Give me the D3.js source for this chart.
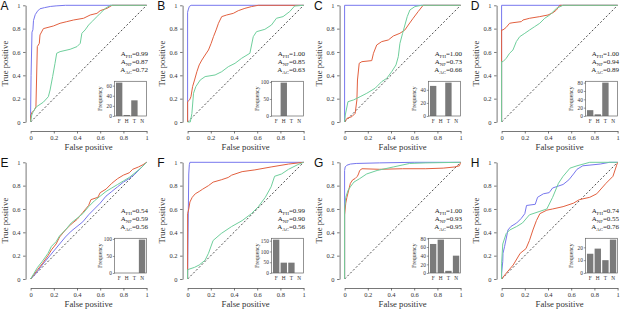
<!DOCTYPE html>
<html><head><meta charset="utf-8">
<script src="https://cdn.jsdelivr.net/npm/d3@7"></script>
<style>body{margin:0;background:#fff} svg{display:block}</style>
</head><body><svg id="c" width="623" height="310"></svg>
<script>
// ---------- data ----------
const panelLabels = ["A","B","C","D","E","F","G","H"];
const rocTicks = [0, 0.2, 0.4, 0.6, 0.8, 1];
const methodNames = ["FH","NF","AC"];
const aucFH = [0.99, 1.00, 1.00, 1.00, 0.54, 0.99, 1.00, 0.74];
const aucNF = [0.87, 0.85, 0.73, 0.94, 0.59, 0.90, 0.93, 0.55];
const aucAC = [0.72, 0.63, 0.66, 0.89, 0.56, 0.56, 0.95, 0.76];
const freqCats = ["F","H","T","N"];
const freqA = [66, 2, 31, 0];
const freqB = [0, 98, 0, 0];
const freqC = [46, 0, 51, 0];
const freqD = [14, 4, 80, 0];
const freqE = [0, 0, 0, 98];
const freqF = [155, 48, 48, 0];
const freqG = [67, 77, 5, 40];
const freqH = [15, 19, 10, 26];
const freqTicksA = [0, 20, 40, 60];
const freqTicksB = [0, 50, 100];
const freqTicksC = [0, 20, 40];
const freqTicksD = [0, 20, 40, 60, 80];
const freqTicksE = [0, 50, 100];
const freqTicksF = [0, 50, 100, 150];
const freqTicksG = [0, 20, 40, 60, 80];
const freqTicksH = [0, 10, 20];

// ROC curves: [false positive, true positive]
const rocA_FH = [[0,0],[0,0.07],[0.004,0.4],[0.012,0.77],[0.02,0.79],[0.025,0.87],[0.04,0.92],[0.06,0.95],[0.08,0.97],[0.12,0.98],[0.17,0.99],[0.22,0.995],[0.3,1],[1,1]];
const rocA_NF = [[0,0],[0,0.05],[0.01,0.08],[0.03,0.1],[0.046,0.13],[0.058,0.646],[0.075,0.674],[0.081,0.746],[0.11,0.8],[0.197,0.823],[0.254,0.846],[0.312,0.86],[0.37,0.874],[0.457,0.889],[0.514,0.917],[0.572,0.931],[0.6,0.954],[0.659,0.974],[0.702,1],[1,1]];
const rocA_AC = [[0,0],[0.01,0.06],[0.023,0.09],[0.05,0.13],[0.11,0.17],[0.153,0.217],[0.168,0.274],[0.19,0.389],[0.21,0.5],[0.225,0.589],[0.254,0.603],[0.341,0.623],[0.4,0.646],[0.428,0.674],[0.442,0.76],[0.47,0.789],[0.5,0.831],[0.529,0.86],[0.572,0.903],[0.6,0.931],[0.645,0.974],[0.688,1],[1,1]];

const rocB_FH = [[0,0],[0,0.94],[0.005,0.96],[0.015,0.99],[0.03,1],[1,1]];
const rocB_NF = [[0,0],[0,0.174],[0.017,0.189],[0.029,0.217],[0.043,0.303],[0.06,0.36],[0.08,0.431],[0.1,0.489],[0.123,0.531],[0.151,0.574],[0.18,0.617],[0.203,0.674],[0.223,0.731],[0.246,0.789],[0.266,0.846],[0.294,0.903],[0.337,0.917],[0.394,0.931],[0.437,0.954],[0.494,0.974],[0.551,0.989],[0.609,1],[1,1]];
const rocB_AC = [[0,0],[0.023,0],[0.037,0.074],[0.051,0.246],[0.071,0.303],[0.109,0.36],[0.151,0.389],[0.237,0.403],[0.294,0.431],[0.351,0.474],[0.409,0.503],[0.466,0.546],[0.537,0.589],[0.566,0.731],[0.594,0.774],[0.666,0.794],[0.723,0.831],[0.766,0.889],[0.823,0.903],[0.88,0.946],[0.923,0.994],[1,1]];

const rocC_FH = [[0,0],[0,1],[1,1]];
const rocC_NF = [[0,0],[0.02,0.031],[0.063,0.046],[0.091,0.074],[0.106,0.189],[0.111,0.36],[0.126,0.503],[0.149,0.517],[0.234,0.526],[0.249,0.589],[0.277,0.66],[0.32,0.689],[0.377,0.703],[0.42,0.737],[0.477,0.76],[0.52,0.789],[0.549,0.831],[0.591,0.889],[0.634,0.946],[0.677,1],[1,1]];
const rocC_AC = [[0,0],[0.006,0.06],[0.029,0.174],[0.077,0.189],[0.134,0.217],[0.191,0.246],[0.263,0.289],[0.32,0.346],[0.363,0.374],[0.406,0.431],[0.443,0.489],[0.463,0.56],[0.477,0.674],[0.5,0.76],[0.52,0.831],[0.54,0.903],[0.563,0.96],[0.606,0.989],[0.663,1],[1,1]];

const rocD_FH = [[0,0],[0,1],[1,1]];
const rocD_NF = [[0,0],[0,0.789],[0.012,0.789],[0.04,0.811],[0.069,0.846],[0.098,0.851],[0.17,0.86],[0.184,0.874],[0.242,0.889],[0.329,0.903],[0.4,0.917],[0.444,0.937],[0.473,0.96],[0.501,1],[1,1]];
const rocD_AC = [[0,0],[0,0.517],[0.012,0.517],[0.04,0.546],[0.069,0.589],[0.098,0.617],[0.127,0.689],[0.156,0.731],[0.2,0.76],[0.242,0.789],[0.285,0.817],[0.329,0.846],[0.372,0.889],[0.415,0.917],[0.473,0.974],[0.53,1],[1,1]];

const rocE_FH = [[0,0],[0.03,0.03],[0.07,0.08],[0.1,0.12],[0.15,0.18],[0.2,0.24],[0.25,0.3],[0.3,0.36],[0.35,0.41],[0.4,0.45],[0.45,0.49],[0.5,0.55],[0.55,0.6],[0.6,0.65],[0.65,0.71],[0.7,0.75],[0.75,0.79],[0.8,0.83],[0.85,0.86],[0.9,0.9],[0.95,0.95],[1,1]];
const rocE_NF = [[0,0],[0.03,0.04],[0.06,0.08],[0.1,0.13],[0.15,0.2],[0.18,0.25],[0.22,0.3],[0.25,0.36],[0.3,0.42],[0.35,0.47],[0.4,0.51],[0.45,0.57],[0.5,0.63],[0.52,0.68],[0.58,0.7],[0.6,0.74],[0.65,0.77],[0.7,0.82],[0.75,0.86],[0.8,0.89],[0.85,0.91],[0.88,0.94],[0.93,0.96],[0.97,0.98],[1,1]];
const rocE_AC = [[0,0],[0.03,0.05],[0.06,0.1],[0.1,0.15],[0.15,0.22],[0.18,0.28],[0.22,0.32],[0.25,0.37],[0.3,0.42],[0.35,0.48],[0.4,0.52],[0.45,0.56],[0.5,0.62],[0.55,0.67],[0.6,0.71],[0.65,0.75],[0.7,0.78],[0.75,0.81],[0.8,0.84],[0.85,0.87],[0.9,0.91],[0.95,0.95],[1,1]];

const rocF_FH = [[0,0],[0.003,0.3],[0.01,0.9],[0.015,0.98],[0.02,1],[1,1]];
const rocF_NF = [[0,0],[0,0.56],[0.01,0.6],[0.02,0.66],[0.04,0.7],[0.066,0.73],[0.1,0.75],[0.13,0.77],[0.18,0.8],[0.22,0.83],[0.29,0.85],[0.35,0.87],[0.38,0.89],[0.47,0.92],[0.58,0.935],[0.72,0.96],[0.87,0.985],[1,1]];
const rocF_AC = [[0,0],[0,0.08],[0.06,0.1],[0.1,0.12],[0.15,0.16],[0.18,0.22],[0.22,0.33],[0.29,0.39],[0.38,0.45],[0.47,0.5],[0.55,0.56],[0.61,0.62],[0.67,0.7],[0.72,0.79],[0.75,0.88],[0.81,0.9],[0.87,0.94],[0.95,0.98],[1,1]];

const rocG_FH = [[0,0],[0,0.93],[0.005,0.96],[0.02,0.975],[0.05,0.985],[0.1,0.99],[0.3,0.995],[0.6,1],[1,1]];
const rocG_NF = [[0,0],[0,0.55],[0.01,0.65],[0.02,0.7],[0.04,0.78],[0.05,0.82],[0.07,0.85],[0.09,0.86],[0.11,0.88],[0.12,0.9],[0.13,0.93],[0.15,0.945],[0.3,0.94],[0.5,0.945],[0.7,0.945],[0.85,0.95],[0.95,0.96],[0.99,0.97],[1,1]];
const rocG_AC = [[0,0],[0,0.6],[0.01,0.7],[0.03,0.76],[0.05,0.79],[0.08,0.83],[0.13,0.86],[0.19,0.9],[0.28,0.93],[0.42,0.96],[0.56,0.99],[0.7,0.995],[1,1]];

const rocH_FH = [[0,0],[0,0.05],[0.01,0.15],[0.012,0.22],[0.026,0.28],[0.03,0.3],[0.055,0.42],[0.08,0.45],[0.13,0.48],[0.17,0.52],[0.2,0.56],[0.215,0.63],[0.29,0.64],[0.31,0.7],[0.36,0.73],[0.41,0.74],[0.44,0.78],[0.53,0.81],[0.58,0.85],[0.62,0.9],[0.65,0.94],[0.7,0.97],[0.85,0.985],[0.93,1],[1,1]];
const rocH_NF = [[0,0],[0.04,0.05],[0.1,0.12],[0.16,0.22],[0.21,0.26],[0.24,0.33],[0.27,0.42],[0.3,0.5],[0.33,0.56],[0.39,0.59],[0.44,0.6],[0.53,0.62],[0.62,0.65],[0.67,0.68],[0.76,0.7],[0.82,0.73],[0.9,0.82],[0.96,0.88],[0.99,0.97],[1,1]];
const rocH_AC = [[0,0],[0,0.13],[0.01,0.3],[0.04,0.39],[0.07,0.42],[0.13,0.45],[0.18,0.48],[0.24,0.55],[0.33,0.58],[0.39,0.6],[0.44,0.7],[0.49,0.82],[0.53,0.88],[0.59,0.95],[0.65,0.97],[0.76,1],[1,1]];

// ---------- assemble ----------
const rocSets = [
  [rocA_FH, rocA_NF, rocA_AC], [rocB_FH, rocB_NF, rocB_AC],
  [rocC_FH, rocC_NF, rocC_AC], [rocD_FH, rocD_NF, rocD_AC],
  [rocE_FH, rocE_NF, rocE_AC], [rocF_FH, rocF_NF, rocF_AC],
  [rocG_FH, rocG_NF, rocG_AC], [rocH_FH, rocH_NF, rocH_AC]
];
const freqSets = [freqA, freqB, freqC, freqD, freqE, freqF, freqG, freqH];
const freqTickSets = [freqTicksA, freqTicksB, freqTicksC, freqTicksD, freqTicksE, freqTicksF, freqTicksG, freqTicksH];
const aucSets = [aucFH, aucNF, aucAC];
const colors = ["#7777ee", "#e2603f", "#6fcf9c"];

const svg = d3.select("#c");
const serif = "'Liberation Serif','Times New Roman',serif";
const W = 116, H = 116.7;

panelLabels.forEach((lab, i) => {
  const col = i % 4, row = Math.floor(i / 4);
  const x0 = 30.6 + col * 157, x1 = x0 + W;
  const yTop = row === 0 ? 5.3 : 162.3, yBot = yTop + H;
  const x = d3.scaleLinear([0, 1], [x0, x1]);
  const y = d3.scaleLinear([0, 1], [yBot, yTop]);
  const g = svg.append("g");

  // panel letter
  g.append("text").attr("x", x0 - 30 - col * 0.3).attr("y", yTop + 4.8)
    .attr("font-family", "'Liberation Sans',Arial,sans-serif").attr("font-size", 12)
    .attr("fill", "#111").text(lab);

  // axes
  const xa = g.append("g").attr("transform", `translate(0,${yBot + 9})`)
    .call(d3.axisBottom(x).tickValues(rocTicks).tickFormat(d3.format("~g")).tickSize(2.5).tickSizeOuter(0).tickPadding(1.5));
  const ya = g.append("g").attr("transform", `translate(${x0 - 5},0)`)
    .call(d3.axisLeft(y).tickValues(rocTicks).tickFormat(d3.format("~g")).tickSize(2.5).tickSizeOuter(0).tickPadding(2.5));
  [xa, ya].forEach(a => {
    a.selectAll("path,line").attr("stroke", "#555").attr("stroke-width", 0.8);
    a.selectAll("text").attr("font-family", serif).attr("font-size", 6.5).attr("fill", "#333");
  });

  // axis titles
  g.append("text").attr("x", (x0 + x1) / 2).attr("y", yBot + 27.5)
    .attr("text-anchor", "middle").attr("font-family", serif).attr("font-size", 8.7)
    .attr("fill", "#333").text("False positive");
  g.append("text").attr("transform", `translate(${x0 - 23},${(yTop + yBot) / 2}) rotate(-90)`)
    .attr("text-anchor", "middle").attr("font-family", serif).attr("font-size", 8.7)
    .attr("fill", "#333").text("True positive");

  // diagonal
  g.append("line").attr("x1", x(0)).attr("y1", y(0)).attr("x2", x(1)).attr("y2", y(1))
    .attr("stroke", "#222").attr("stroke-width", 0.8).attr("stroke-dasharray", "2,2");

  // ROC curves
  const line = d3.line().x(d => x(d[0])).y(d => y(d[1]));
  rocSets[i].forEach((pts, k) => {
    g.append("path").attr("d", line(pts)).attr("fill", "none")
      .attr("stroke", colors[k]).attr("stroke-width", 1);
  });

  // AUC text
  methodNames.forEach((m, k) => {
    const t = g.append("text").attr("x", x1 + 1.5).attr("y", yTop + 51 + k * 8)
      .attr("text-anchor", "end").attr("font-family", serif).attr("font-size", 7).attr("fill", "#222");
    t.append("tspan").text("A");
    t.append("tspan").attr("font-size", 4.8).attr("dy", 1.5).text(m);
    t.append("tspan").attr("dy", -1.5).text("=" + aucSets[k][i].toFixed(2));
  });

  // inset bar chart
  const bl = x1 - 32, br = x1, bt = yTop + 76, bb = yBot - 6;
  const vals = freqSets[i];
  const xb = d3.scaleBand(freqCats, [bl, br]).paddingInner(0.1667).paddingOuter(0.18);
  const yb = d3.scaleLinear([0, d3.max(vals) * 1.04], [bb, bt]);
  g.append("rect").attr("x", bl).attr("y", bt).attr("width", br - bl).attr("height", bb - bt)
    .attr("fill", "#fff").attr("stroke", "none");
  g.selectAll(null).data(vals).join("rect")
    .attr("x", (d, j) => xb(freqCats[j])).attr("width", xb.bandwidth())
    .attr("y", d => yb(d)).attr("height", d => bb - yb(d)).attr("fill", "#7a7a7a");
  g.append("rect").attr("x", bl).attr("y", bt).attr("width", br - bl).attr("height", bb - bt)
    .attr("fill", "none").attr("stroke", "#666").attr("stroke-width", 0.7);
  const yia = g.append("g").attr("transform", `translate(${bl},0)`)
    .call(d3.axisLeft(yb).tickValues(freqTickSets[i]).tickFormat(d3.format("d")).tickSize(1.8).tickSizeOuter(0).tickPadding(1));
  yia.select("path").remove();
  yia.selectAll("line").attr("stroke", "#555").attr("stroke-width", 0.6);
  yia.selectAll("text").attr("font-family", serif).attr("font-size", 5.3).attr("fill", "#333");
  freqCats.forEach(c => {
    g.append("text").attr("x", xb(c) + xb.bandwidth() / 2).attr("y", bb + 7)
      .attr("text-anchor", "middle").attr("font-family", serif).attr("font-size", 5.3)
      .attr("fill", "#333").text(c);
  });
  g.append("text").attr("transform", `translate(${bl - 13},${(bt + bb) / 2}) rotate(-90)`)
    .attr("text-anchor", "middle").attr("font-family", serif).attr("font-size", 5.8)
    .attr("fill", "#333").text("Frequency");
});
</script></body></html>
